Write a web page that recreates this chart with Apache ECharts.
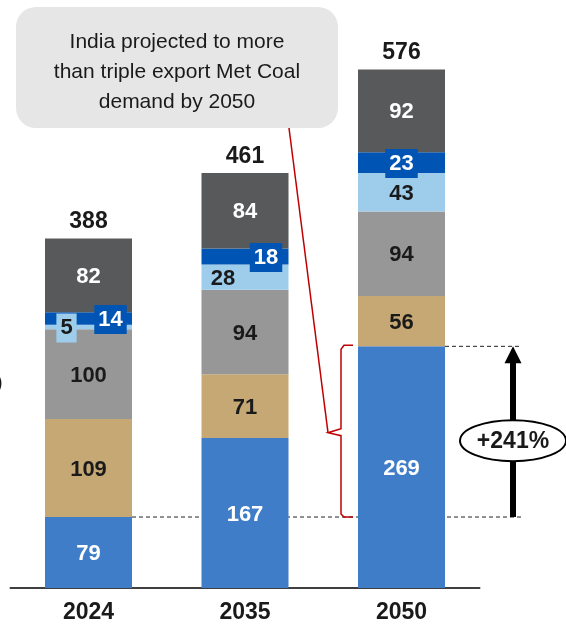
<!DOCTYPE html>
<html><head><meta charset="utf-8">
<script src="https://cdn.jsdelivr.net/npm/echarts@6/dist/echarts.min.js"></script>
<style>html,body{margin:0;padding:0;background:#fff}#c{width:566px;height:624px}</style>
</head><body><div id="c"></div>
<script>
const categories = ['2024', '2035', '2050'];
const blueSeg = [79, 167, 269];
const tanSeg = [109, 71, 56];
const graySeg = [100, 94, 94];
const lightBlueSeg = [5, 28, 43];
const darkBlueSeg = [14, 18, 23];
const darkGraySeg = [82, 84, 92];
const totals = [388, 461, 576];
const growthLabel = '+241%';
const calloutText = 'India projected to more\nthan triple export Met Coal\ndemand by 2050';

const FONT = '"Liberation Sans", Arial, sans-serif';
const C = {blue:'#3F7DC8', tan:'#C5A874', gray:'#979797', lblue:'#9DCDEB', dblue:'#0054B4', dgray:'#58595B'};
const BW = 87;
const FS = 22;
const lblW = {show:true, position:'inside', offset:[0,1.5], color:'#fff', fontFamily:FONT, fontWeight:'bold', fontSize:FS};
const lblD = Object.assign({}, lblW, {color:'#1a1a1a'});
const PAD = [4,4,3,4];

function seg(name, data, color, lbl, perItem) {
  return {
    name, type:'bar', stack:'s', barWidth:BW, z:3,
    itemStyle:{color},
    label:lbl,
    data: data.map((v,i)=> perItem && perItem[i] ? {value:v, label:perItem[i]} : v)
  };
}

const chart = echarts.init(document.getElementById('c'), null, {renderer:'canvas'});
chart.setOption({
  animation:false,
  grid:{left:10.25, width:469.5, bottom:35, top:13},
  xAxis:{type:'category', data:categories,
    axisLine:{lineStyle:{color:'#000', width:1.5}}, axisTick:{show:false},
    axisLabel:{color:'#1a1a1a', fontFamily:FONT, fontWeight:'bold', fontSize:23, margin:13}},
  yAxis:{type:'value', min:0, max:640, show:false, splitLine:{show:false}},
  series:[
    seg('blue', blueSeg, C.blue, lblW),
    seg('tan', tanSeg, C.tan, lblD),
    seg('gray', graySeg, C.gray, lblD),
    seg('lblue', lightBlueSeg, C.lblue, lblD, [
      {offset:[-22,1], backgroundColor:C.lblue, padding:PAD},
      {offset:[-22,2]}, null]),
    seg('dblue', darkBlueSeg, C.dblue, lblW, [
      {offset:[22,1], backgroundColor:C.dblue, padding:PAD},
      {offset:[21,1], backgroundColor:C.dblue, padding:PAD},
      {offset:[0,1], backgroundColor:C.dblue, padding:PAD}]),
    seg('dgray', darkGraySeg, C.dgray, lblW),
    {name:'total', type:'bar', barWidth:BW, barGap:'-100%', z:1, silent:true,
     itemStyle:{color:'rgba(255,255,255,0)'}, data:totals,
     label:{show:true, position:'top', distance:6, color:'#1a1a1a', fontFamily:FONT, fontWeight:'bold', fontSize:23}}
  ]
});

// annotations positioned from the data scale
const P = (ci, v) => chart.convertToPixel({gridIndex:0}, [ci, v]);
const base79 = P(0, blueSeg[0]);
const top269 = P(2, blueSeg[2]);
const BWpx = BW;
const x2024R = base79[0] + BWpx/2;
const x2050L = top269[0] - BWpx/2;
const x2050R = top269[0] + BWpx/2;
const yLow = base79[1], yHigh = top269[1];
const arrowX = x2050R + 68;
const dashEnd = arrowX + 8;
const yMid = (yLow + yHigh)/2;
const bx = x2050L - 18;
const RED = '#C00000';

chart.setOption({graphic:[
  {type:'line', z:1, shape:{x1:x2024R, y1:yLow, x2:dashEnd, y2:yLow}, style:{stroke:'#222', lineWidth:1, lineDash:[4,3]}},
  {type:'line', z:1, shape:{x1:x2050R, y1:yHigh, x2:dashEnd, y2:yHigh}, style:{stroke:'#222', lineWidth:1, lineDash:[4,3]}},
  {type:'line', z:10, shape:{x1:arrowX, y1:yLow, x2:arrowX, y2:yHigh+14}, style:{stroke:'#000', lineWidth:6}},
  {type:'polygon', z:10, shape:{points:[[arrowX, yHigh],[arrowX-8.5, yHigh+17],[arrowX+8.5, yHigh+17]]}, style:{fill:'#000'}},
  {type:'ellipse', z:11, shape:{cx:arrowX, cy:yMid+9, rx:53, ry:20.5}, style:{fill:'#fff', stroke:'#000', lineWidth:2}},
  {type:'text', z:12, x:arrowX, y:yMid+10, style:{text:growthLabel, fill:'#1a1a1a', font:'bold 23px '+FONT, align:'center', verticalAlign:'middle'}},
  {type:'polyline', z:10, shape:{points:[
    [bx+13, yHigh-1],[bx+4, yHigh-1],[bx+1, yHigh+3],[bx+1, yMid-3],[bx-12, yMid+1],
    [bx+1, yMid+4],[bx+1, yLow-3],[bx+4, yLow],[bx+13, yLow]]},
    style:{stroke:RED, lineWidth:1.5, fill:null}},
  {type:'line', z:10, shape:{x1:289, y1:128, x2:bx-12, y2:yMid+1}, style:{stroke:RED, lineWidth:1.5}},
  {type:'rect', z:20, shape:{x:16, y:7, width:322, height:121, r:20}, style:{fill:'#E6E6E6'}},
  {type:'text', z:21, x:177, y:72, style:{text:calloutText, fill:'#1a1a1a', font:'21px '+FONT, align:'center', verticalAlign:'middle', lineHeight:30}},
  {type:'text', z:21, x:-4, y:383, style:{text:')', fill:'#1a1a1a', font:'20px '+FONT, verticalAlign:'middle'}}
]});
</script></body></html>
